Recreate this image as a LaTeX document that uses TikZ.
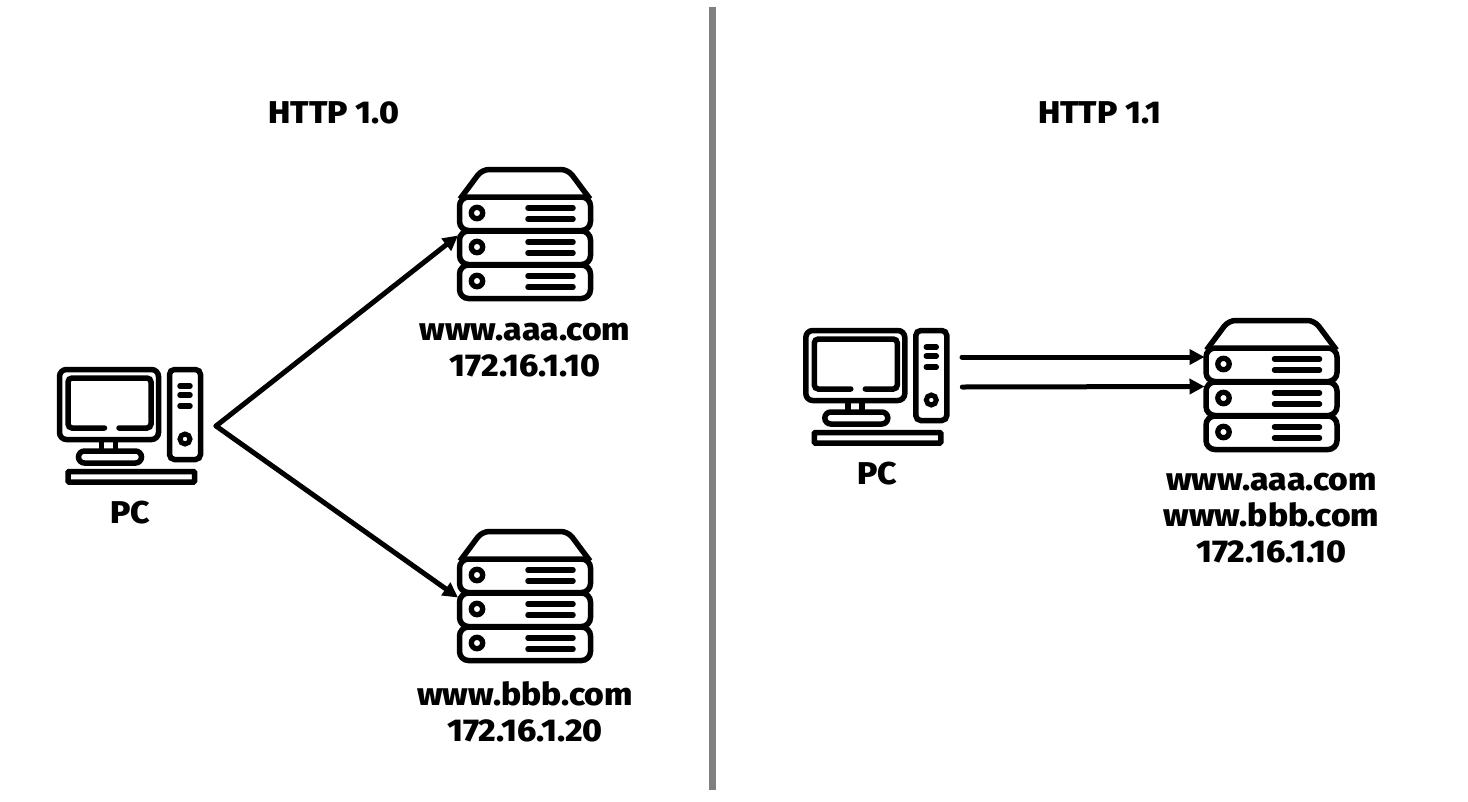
\documentclass[tikz,border=0pt]{standalone}
\usepackage{fontspec}
\setmainfont{Fira Sans}[BoldFont={Fira Sans ExtraBold},BoldFeatures={FakeStretch=1.07}]
\usetikzlibrary{arrows.meta}
\tikzset{
    caption/.style = {font=\fontsize{31.5}{36}\selectfont\bfseries, align=center, inner sep=0pt},
    link/.style = {line width=5pt, line cap=round, -{Stealth[length=15pt,width=15pt,inset=0pt]}},
    icon/.style = {line width=5.5pt},
    bar/.style = {line width=5.5pt, line cap=round},
    pc/.pic = {
        \draw[icon, rounded corners=7pt] (2.5,2.5) rectangle (101.5,72.5);
        \draw[bar, rounded corners=4pt] (47.5,61) -- (11,61) -- (11,11) -- (94,11) -- (94,61) -- (62,61);
        \draw[icon] (44.5,73) -- (44.5,83);
        \draw[icon] (58.5,73) -- (58.5,83);
        \draw[icon, rounded corners=6pt] (21.5,84) rectangle (84.5,96);
        \draw[icon, rounded corners=1pt] (11,104.5) rectangle (137.5,115);
        \draw[icon, rounded corners=5pt] (112.5,2.5) rectangle (143.5,92.5);
        \foreach \y in {19,28,39}
            \draw[bar] (123,\y) -- (133,\y);
        \draw[line width=5pt] (128,72) circle (5);
        \coordinate (-outa) at (158.7,29);
        \coordinate (-outb) at (159,59);
    },
    server/.pic = {
        \draw[icon, rounded corners=7pt] (-65,32) -- (-43,2.5) -- (43,2.5) -- (65,32);
        \foreach \y in {30,64,98}
            \draw[icon, rounded corners=9pt] (-65.5,\y) rectangle (65.5,\y+33.5);
        \foreach \y in {0,34,68} {
            \draw[line width=5.3pt] (-48,46+\y) circle (5.7);
            \draw[bar] (3,41+\y) -- (48,41+\y);
            \draw[bar] (3,52+\y) -- (48,52+\y);
        }
        \coordinate (-ina) at (-67,39);
        \coordinate (-inb) at (-67,68.5);
    }
}
\begin{document}
\begin{tikzpicture}[x=1pt, y=-1pt]
    \useasboundingbox (0,0) rectangle (1468,801);
    % divider
    \coordinate (top) at (712.5,7);
    \coordinate (bottom) at (712.5,790);
    \draw[line width=6.5pt, color=black!50] (top) -- (bottom);
    % HTTP 1.0
    \node[caption] (title1) at (334,113) {HTTP 1.0};
    \pic (pc1) at (57,367) {pc};
    \node[caption] (pclabel1) at (130,513) {PC};
    \pic (srva) at (525,167) {server};
    \node[caption] (srvlabela) at (525,350) {www.aaa.com\\172.16.1.10};
    \pic (srvb) at (525,529) {server};
    \node[caption] (srvlabelb) at (525,712) {www.bbb.com\\172.16.1.20};
    \draw[link] (pc1-outb) -- (srva-inb);
    \draw[link] (pc1-outb) -- (srvb-inb);
    % HTTP 1.1
    \node[caption] (title2) at (1100,113) {HTTP 1.1};
    \pic (pc2) at (803.3,328) {pc};
    \node[caption] (pclabel2) at (877,474) {PC};
    \pic (srvc) at (1271.5,318) {server};
    \node[caption] (srvlabelc) at (1271.5,518) {www.aaa.com\\www.bbb.com\\172.16.1.10};
    \draw[link] (pc2-outa) -- (srvc-ina);
    \draw[link] (pc2-outb) -- (srvc-inb);
\end{tikzpicture}
\end{document}
